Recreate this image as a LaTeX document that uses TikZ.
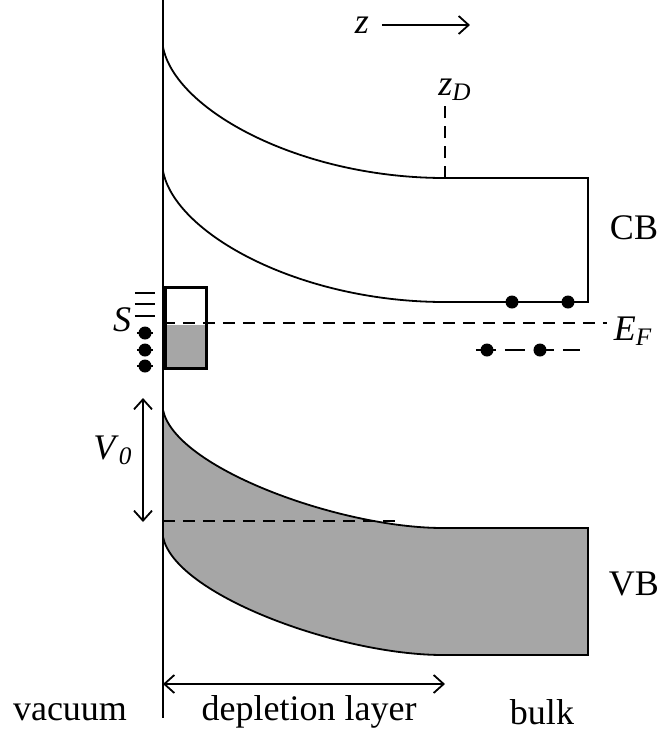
\documentclass[tikz,border=0pt]{standalone}
\usepackage{fontspec}
\setmainfont{Liberation Serif}
\usetikzlibrary{arrows.meta}

\begin{document}
\begin{tikzpicture}[x=0.5pt, y=-0.5pt, line width=0.9pt, >={Straight Barb[length=5pt, width=9pt]},
  every node/.style={font=\fontsize{18}{21}\selectfont, inner sep=1pt},
  dot/.style={circle, fill, inner sep=0pt, minimum size=6.5pt},
  level/.style={dash pattern=on 6pt off 4pt},
  band/.style={fill=black!35}]
\useasboundingbox (0,0) rectangle (658,736);
% valence band
\fill[band] (163,410) .. controls (175,468) and (340,528) .. (443,528) -- (588,528) -- (588,655)
  -- (443,655) .. controls (340,655) and (175,595) .. (163,537) -- cycle;
\draw (163,410) .. controls (175,468) and (340,528) .. (443,528) -- (588,528) -- (588,655)
  -- (443,655) .. controls (340,655) and (175,595) .. (163,537);
% conduction band
\draw (163,47) .. controls (175,110) and (300,178) .. (445,178) -- (588,178) -- (588,302)
  -- (445,302) .. controls (300,302) and (175,234) .. (163,171);
% surface
\draw[line width=1.1pt] (163,0) -- (163,718);
% surface states
\fill[band] (166,325) rectangle (207,368);
\draw[line width=1.5pt] (166,287) rectangle (207,368);
\foreach \y in {293,304,316} \draw[line width=1.2pt] (135,\y) -- (155,\y);
\foreach \y in {333,350,366} {
  \draw[line width=1.2pt] (137,\y) -- (153,\y);
  \node[dot] at (145,\y) {};
}
\node[anchor=east] (s) at (134,320) {\textit{S}};
% Fermi level and donors
\coordinate (ef0) at (163,323);
\coordinate (ef1) at (607,323);
\draw[level] (ef0) -- (ef1);
\node[anchor=west] (ef) at (611,331) {\textit{E}\textsubscript{\textit{F}}};
\draw[dash pattern=on 10pt off 4.5pt] (476,350) -- (580,350);
\node[dot] at (487,350) {};
\node[dot] at (540,350) {};
\node[dot] at (512,302) {};
\node[dot] at (568,302) {};
% depletion edge
\coordinate (zd0) at (445,178);
\node (zd) at (455,90) {\textit{z}\textsubscript{\textit{D}}};
\draw[level] (zd0) -- (445,106);
\node (z) at (362,25) {\textit{z}};
\coordinate (zend) at (470,25);
\draw[->] (z.east) ++(10,0) -- (zend);
% band bending
\coordinate (v0a) at (143,398);
\coordinate (v0b) at (143,522);
\draw[<->] (v0a) -- (v0b);
\node (v0) at (113,450) {\textit{V}\textsubscript{\textit{0}}};
\draw[level] (163,521) -- (395,521);
% labels
\node (cb) at (634,228) {CB};
\node (vb) at (634,584) {VB};
\coordinate (dl0) at (163,684);
\coordinate (dl1) at (445,684);
\draw[<->] (dl0) -- (dl1);
\node (vac) at (70,712) {vacuum};
\node (dep) at (309,712) {depletion layer};
\node (bulk) at (542,712) {bulk};
\end{tikzpicture}
\end{document}
